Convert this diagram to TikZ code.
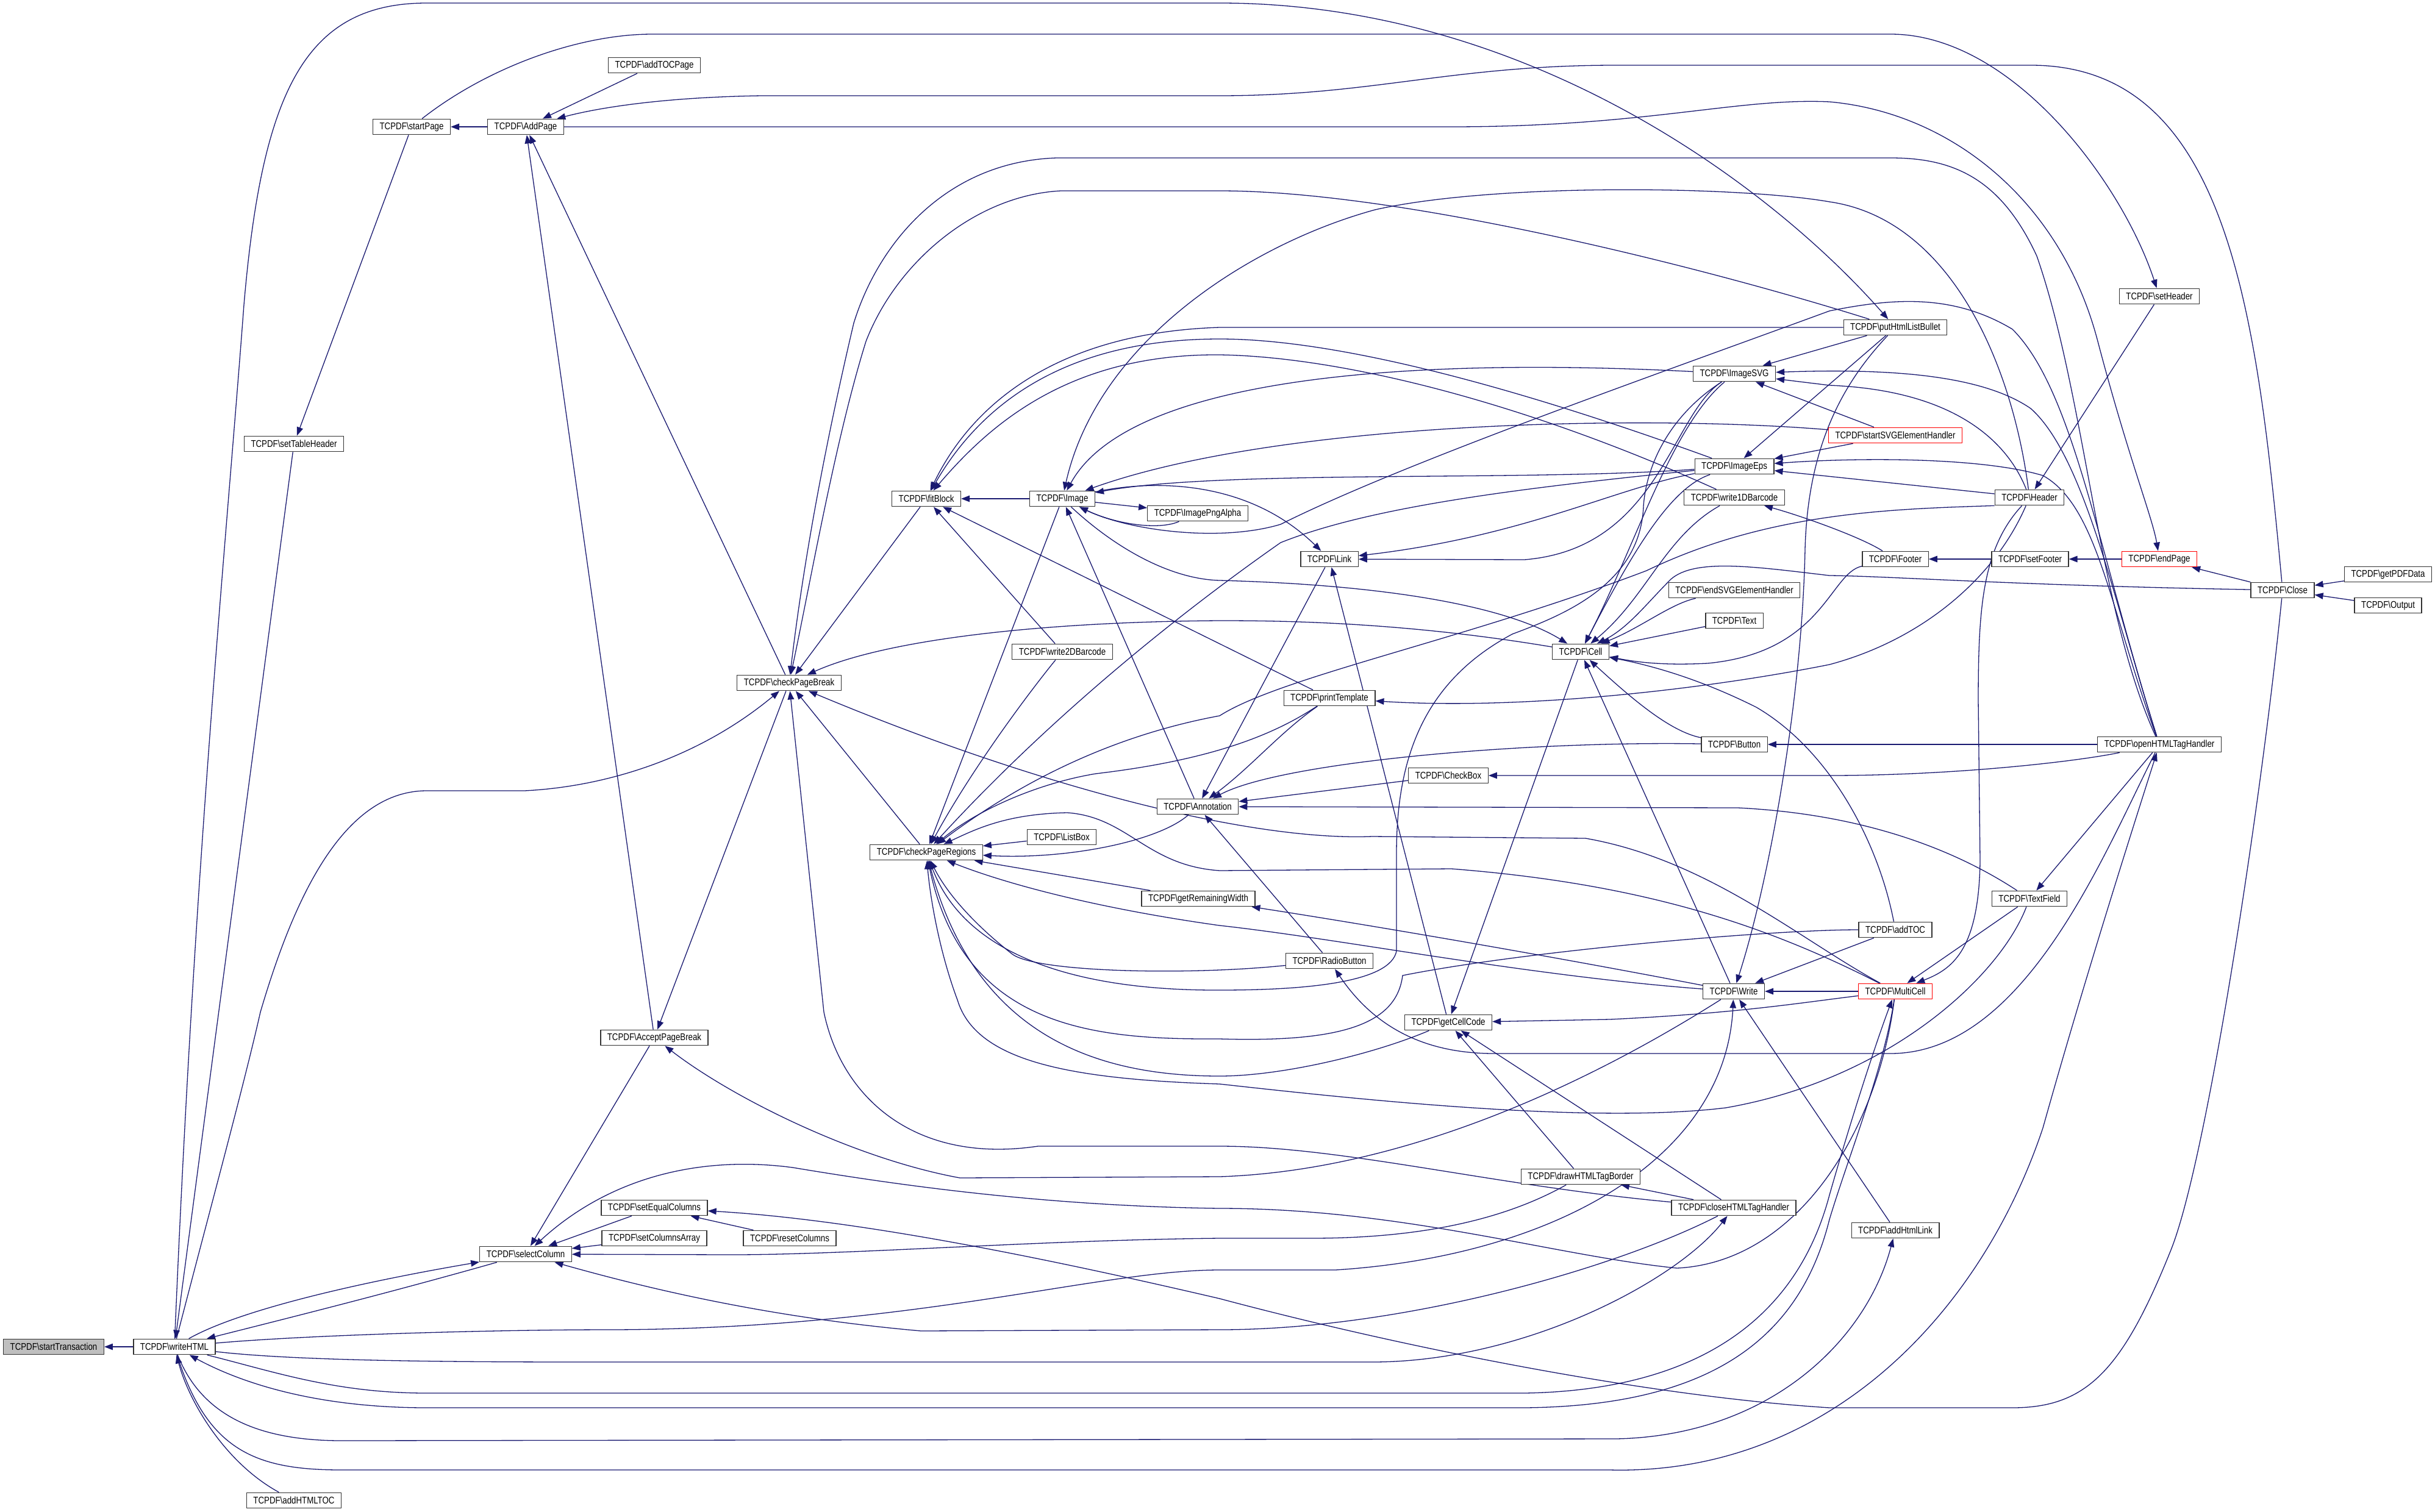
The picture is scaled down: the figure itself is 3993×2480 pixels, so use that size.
\documentclass[tikz,border=0pt]{standalone}
\usepackage{fontspec}
\newfontfamily\tcfont[FakeStretch=0.83]{Liberation Sans}
\usepackage{tikz}
\usetikzlibrary{arrows.meta,backgrounds}
\definecolor{edgeblue}{HTML}{191970}
\newcommand{\fnname}[1]{TCPDF\textbackslash #1}
\tikzset{
  fn/.style={ draw=black!80, fill=white, line width=1.3pt, minimum height=25.5pt, inner xsep=11pt, inner ysep=0pt, font=\tcfont\fontsize{16}{18}\selectfont }
}
\tikzset{
  fnroot/.style={ fn, fill=black!25 }
}
\tikzset{
  fnred/.style={ fn, draw=red }
}
\tikzset{
  call/.style={ draw=edgeblue, line width=1.3pt, -{Triangle[length=14pt,width=10.5pt]} }
}

\begin{document}
\begin{tikzpicture}[x=1pt,y=-1pt]
  \useasboundingbox (0,0) rectangle (3993,2480);

  \node[fnroot] (sT) at (88,2209) {\fnname{startTransaction}};
  \node[fn] (wH) at (286,2209) {\fnname{writeHTML}};
  \node[fn] (sTH) at (482,728) {\fnname{setTableHeader}};
  \node[fn] (aHT) at (482,2461) {\fnname{addHTMLTOC}};
  \node[fn] (sP) at (675,208) {\fnname{startPage}};
  \node[fn] (AP) at (862,208) {\fnname{AddPage}};
  \node[fn] (sC) at (862,2057) {\fnname{selectColumn}};
  \node[fn] (aTP) at (1073,107) {\fnname{addTOCPage}};
  \node[fn] (APB) at (1073,1702) {\fnname{AcceptPageBreak}};
  \node[fn] (sEC) at (1073,1981) {\fnname{setEqualColumns}};
  \node[fn] (sCA) at (1073,2031) {\fnname{setColumnsArray}};
  \node[fn] (cPB) at (1294,1120) {\fnname{checkPageBreak}};
  \node[fn] (rC) at (1295,2031) {\fnname{resetColumns}};
  \node[fn] (fB) at (1519,818) {\fnname{fitBlock}};
  \node[fn] (cPR) at (1519,1398) {\fnname{checkPageRegions}};
  \node[fn] (Im) at (1742,818) {\fnname{Image}};
  \node[fn] (w2D) at (1742,1069) {\fnname{write2DBarcode}};
  \node[fn] (LB) at (1741,1373) {\fnname{ListBox}};
  \node[fn] (IPA) at (1964,842) {\fnname{ImagePngAlpha}};
  \node[fn] (An) at (1964,1323) {\fnname{Annotation}};
  \node[fn] (gRW) at (1965,1474) {\fnname{getRemainingWidth}};
  \node[fn] (Li) at (2180,917) {\fnname{Link}};
  \node[fn] (pT) at (2180,1145) {\fnname{printTemplate}};
  \node[fn] (RB) at (2180,1576) {\fnname{RadioButton}};
  \node[fn] (CB) at (2375,1272) {\fnname{CheckBox}};
  \node[fn] (gCC) at (2375,1677) {\fnname{getCellCode}};
  \node[fn] (Ce) at (2592,1069) {\fnname{Cell}};
  \node[fn] (dHB) at (2592,1930) {\fnname{drawHTMLTagBorder}};
  \node[fn] (ISVG) at (2844,613) {\fnname{ImageSVG}};
  \node[fn] (IE) at (2844,765) {\fnname{ImageEps}};
  \node[fn] (w1D) at (2844,816) {\fnname{write1DBarcode}};
  \node[fn] (eSVG) at (2844,968) {\fnname{endSVGElementHandler}};
  \node[fn] (Tx) at (2844,1018) {\fnname{Text}};
  \node[fn] (Bu) at (2844,1221) {\fnname{Button}};
  \node[fn] (Wr) at (2843,1626) {\fnname{Write}};
  \node[fn] (cHT) at (2843,1981) {\fnname{closeHTMLTagHandler}};
  \node[fn] (pHL) at (3108,537) {\fnname{putHtmlListBullet}};
  \node[fnred] (sSVG) at (3108,714) {\fnname{startSVGElementHandler}};
  \node[fn] (Fo) at (3108,917) {\fnname{Footer}};
  \node[fn] (aT) at (3108,1525) {\fnname{addTOC}};
  \node[fnred] (MC) at (3108,1626) {\fnname{MultiCell}};
  \node[fn] (aHL) at (3108,2018) {\fnname{addHtmlLink}};
  \node[fn] (He) at (3328,816) {\fnname{Header}};
  \node[fn] (sF) at (3329,917) {\fnname{setFooter}};
  \node[fn] (TF) at (3328,1474) {\fnname{TextField}};
  \node[fn] (sH) at (3541,486) {\fnname{setHeader}};
  \node[fnred] (eP) at (3541,917) {\fnname{endPage}};
  \node[fn] (oHT) at (3541,1221) {\fnname{openHTMLTagHandler}};
  \node[fn] (Cl) at (3743,968) {\fnname{Close}};
  \node[fn] (gPD) at (3916,942) {\fnname{getPDFData}};
  \node[fn] (Out) at (3916,993) {\fnname{Output}};

  \begin{scope}[on background layer]
  % writeHTML and its neighbours
  \draw[call] (wH) -- (sT);
  \draw[call] (sC) .. controls (640,2120) and (480,2160) .. (wH);
  \draw[call] (wH) .. controls (390,2150) and (580,2105) .. (sC);
  \draw[call] (sTH) -- (wH);
  \draw[call] (aHT) .. controls (370,2400) and (310,2300) .. (wH);
  \draw[call] (sP) -- (sTH);
  \draw[call] (AP) -- (sP);
  \draw[call] (aTP) -- (AP);
  \draw[call] (cPB) -- (AP);
  \draw[call] (APB) -- (AP);
  \draw[call] (Cl) .. controls (3700,500) and (3650,107) .. (3330,107) -- (2650,107) .. controls (2380,107) and (2250,157) .. (2000,157) -- (1250,157) .. controls (1050,160) and (950,185) .. (AP);
  \draw[call] (wH) .. controls (340,2000) and (400,1780) .. (427,1660) .. controls (480,1480) and (560,1297) .. (700,1297) -- (860,1297) .. controls (1000,1290) and (1150,1240) .. (cPB);
  \draw[call] (wH) .. controls (320,1400) and (370,900) .. (400,500) .. controls (430,150) and (500,5) .. (700,5) -- (2000,5) .. controls (2500,5) and (2900,300) .. (pHL);
  \draw[call] (sP) .. controls (800,110) and (950,56) .. (1070,56) -- (3100,56) .. controls (3300,56) and (3480,300) .. (sH);
  \draw[call] (AP) -- (2380,208) .. controls (2700,208) and (2850,160) .. (3000,167) .. controls (3200,185) and (3380,330) .. (3440,560) .. controls (3490,750) and (3530,850) .. (eP);

  % checkPageBreak
  \draw[call] (oHT) .. controls (3440,1000) and (3420,650) .. (3340,420) .. controls (3280,290) and (3200,259) .. (3100,259) -- (1733,259) .. controls (1550,265) and (1440,400) .. (1400,530) .. controls (1360,700) and (1320,900) .. (cPB);
  \draw[call] (pHL) .. controls (2800,440) and (2300,313) .. (2000,313) -- (1740,313) .. controls (1600,320) and (1470,430) .. (1420,560) .. controls (1370,720) and (1330,950) .. (cPB);
  \draw[call] (fB) -- (cPB);
  \draw[call] (Ce) .. controls (2300,1020) and (2100,1018) .. (2000,1018) .. controls (1700,1020) and (1450,1050) .. (cPB);
  \draw[call] (cPR) -- (cPB);
  \draw[call] (MC) .. controls (2950,1540) and (2800,1410) .. (2600,1375) -- (2250,1372) .. controls (2050,1380) and (1700,1290) .. (cPB);
  \draw[call] (cHT) .. controls (2450,1945) and (2200,1880) .. (2000,1880) -- (1702,1880) .. controls (1500,1910) and (1380,1800) .. (1351,1660) -- (cPB);
  \draw[call] (cPB) -- (APB);
  \draw[call] (Wr) .. controls (2600,1780) and (2300,1920) .. (2000,1930) -- (1574,1932) .. controls (1400,1900) and (1200,1800) .. (APB);

  % selectColumn
  \draw[call] (APB) -- (sC);
  \draw[call] (MC) .. controls (3080,1850) and (2950,2070) .. (2750,2080) .. controls (2550,2060) and (2300,1982) .. (2000,1982) .. controls (1700,1978) and (1450,1940) .. (1300,1915) .. controls (1150,1895) and (1000,1930) .. (sC);
  \draw[call] (sEC) -- (sC);
  \draw[call] (sCA) -- (sC);
  \draw[call] (dHB) .. controls (2450,2010) and (2300,2031) .. (2150,2031) -- (2000,2031) .. controls (1700,2034) and (1400,2058) .. (1200,2058) -- (sC);
  \draw[call] (cHT) .. controls (2650,2080) and (2300,2181) .. (2000,2181) -- (1510,2183) .. controls (1250,2160) and (1050,2110) .. (sC);
  \draw[call] (rC) -- (sEC);
  \draw[call] (Cl) .. controls (3710,1300) and (3620,1900) .. (3560,2050) .. controls (3480,2250) and (3420,2309) .. (3300,2309) -- (3000,2309) .. controls (2700,2290) and (2300,2210) .. (2000,2130) .. controls (1700,2060) and (1400,2000) .. (sEC);

  % long lines out of writeHTML
  \draw[call] (wH) .. controls (500,2190) and (800,2181) .. (1000,2181) .. controls (1500,2180) and (1800,2083) .. (2000,2083) -- (2190,2083) .. controls (2550,2060) and (2830,1900) .. (Wr);
  \draw[call] (wH) .. controls (500,2234) and (800,2234) .. (1000,2234) -- (2250,2234) .. controls (2500,2234) and (2750,2100) .. (cHT);
  \draw[call] (wH) .. controls (450,2250) and (550,2285) .. (700,2285) -- (2500,2285) .. controls (2800,2280) and (2950,2150) .. (3000,1960) .. controls (3040,1820) and (3080,1700) .. (MC);
  \draw[call] (MC) .. controls (3090,1750) and (3030,1900) .. (3000,2000) .. controls (2950,2200) and (2800,2306) .. (2500,2309) -- (700,2309) .. controls (500,2309) and (380,2260) .. (wH);
  \draw[call] (wH) .. controls (330,2320) and (420,2363) .. (560,2363) -- (2650,2360) .. controls (2900,2355) and (3060,2200) .. (aHL);
  \draw[call] (wH) .. controls (340,2380) and (420,2411) .. (560,2411) -- (2640,2411) .. controls (3000,2420) and (3250,2150) .. (3350,1850) .. controls (3420,1600) and (3500,1350) .. (oHT);
  \draw[call] (oHT) .. controls (3450,1400) and (3320,1728) .. (3100,1728) -- (2450,1728) .. controls (2330,1728) and (2250,1680) .. (RB);

  % fitBlock and Image
  \draw[call] (Im) -- (fB);
  \draw[call] (pHL.west) -- (2000,537) .. controls (1750,545) and (1600,650) .. (fB);
  \draw[call] (IE) .. controls (2500,640) and (2200,556) .. (2000,556) .. controls (1750,556) and (1610,660) .. (fB);
  \draw[call] (w1D) .. controls (2500,660) and (2200,585) .. (2000,582) .. controls (1750,580) and (1620,700) .. (fB);
  \draw[call] (w2D) -- (fB);
  \draw[call] (pT) -- (fB);
  \draw[call] (Im) -- (IPA);
  \draw[call] (IPA) .. controls (1900,870) and (1830,860) .. (Im);
  \draw[call] (He) .. controls (3300,600) and (3200,360) .. (3000,331) .. controls (2850,305) and (2450,300) .. (2255,344) .. controls (2050,400) and (1800,560) .. (Im);
  \draw[call] (ISVG) .. controls (2300,585) and (1850,620) .. (Im);
  \draw[call] (sSVG) .. controls (2700,680) and (2100,690) .. (Im);
  \draw[call] (IE) .. controls (2500,790) and (2000,770) .. (Im);
  \draw[call] (Im) .. controls (1900,785) and (2050,790) .. (Li);
  \draw[call] (Im) .. controls (1830,900) and (1920,950) .. (2000,952) .. controls (2300,960) and (2480,1000) .. (Ce);
  \draw[call] (An) -- (Im);
  \draw[call] (oHT) .. controls (3440,900) and (3400,640) .. (3300,540) .. controls (3200,480) and (3100,490) .. (3000,510) .. controls (2700,620) and (2300,760) .. (2100,860) .. controls (2000,890) and (1850,870) .. (Im);

  % checkPageRegions
  \draw[call] (Im) -- (cPR);
  \draw[call] (w2D) .. controls (1700,1120) and (1600,1250) .. (cPR);
  \draw[call] (IE) .. controls (2500,800) and (2250,830) .. (2100,890) .. controls (1900,1030) and (1700,1200) .. (cPR);
  \draw[call] (He.south west) .. controls (3100,835) and (2900,840) .. (2700,936) .. controls (2400,1050) and (2100,1110) .. (2000,1174) .. controls (1800,1211) and (1650,1300) .. (cPR);
  \draw[call] (pT) .. controls (2096,1200) and (2000,1245) .. (1797,1269) .. controls (1700,1285) and (1600,1330) .. (cPR);
  \draw[call] (MC) .. controls (2900,1520) and (2700,1450) .. (2380,1425) -- (2000,1428) .. controls (1880,1420) and (1850,1340) .. (1750,1333) .. controls (1650,1335) and (1600,1360) .. (cPR);
  \draw[call] (LB) -- (cPR);
  \draw[call] (An) .. controls (1900,1380) and (1750,1410) .. (cPR);
  \draw[call] (gRW) -- (cPR);
  \draw[call] (Wr) .. controls (2500,1600) and (2200,1540) .. (2000,1518) .. controls (1800,1490) and (1650,1450) .. (cPR);
  \draw[call] (RB) .. controls (1950,1600) and (1700,1595) .. (1660,1565) .. controls (1590,1510) and (1550,1460) .. (cPR);
  \draw[call] (ISVG) .. controls (2740,680) and (2700,760) .. (2695,830) .. controls (2690,960) and (2560,1010) .. (2480,1040) .. controls (2330,1120) and (2290,1250) .. (2290,1400) -- (2290,1560) .. controls (2280,1610) and (2150,1624) .. (2000,1624) .. controls (1750,1625) and (1580,1560) .. (cPR);
  \draw[call] (TF) .. controls (3280,1600) and (3100,1770) .. (2830,1817) .. controls (2600,1845) and (2200,1800) .. (2000,1778) .. controls (1750,1770) and (1600,1740) .. (1570,1640) .. controls (1540,1560) and (1525,1470) .. (cPR);
  \draw[call] (gCC) .. controls (2250,1730) and (2100,1765) .. (2000,1765) .. controls (1800,1765) and (1600,1700) .. (cPR);
  \draw[call] (aT) .. controls (2900,1525) and (2500,1560) .. (2300,1600) .. controls (2290,1680) and (2200,1710) .. (2000,1704) .. controls (1800,1705) and (1580,1690) .. (cPR);
  \draw[call] (Wr) .. controls (2500,1560) and (2200,1510) .. (gRW);

  % Cell, getCellCode, Link, Annotation
  \draw[call] (Ce) -- (gCC);
  \draw[call] (MC) .. controls (2950,1645) and (2850,1662) .. (2640,1672) -- (gCC);
  \draw[call] (dHB) -- (gCC);
  \draw[call] (cHT) -- (gCC);
  \draw[call] (cHT) -- (dHB);
  \draw[call] (gCC) -- (Li);
  \draw[call] (Li) -- (An);
  \draw[call] (IE) .. controls (2650,800) and (2500,880) .. (Li);
  \draw[call] (ISVG) .. controls (2740,680) and (2720,900) .. (2500,918) -- (Li);
  \draw[call] (ISVG) .. controls (2740,700) and (2680,900) .. (Ce);
  \draw[call] (IE) .. controls (2740,800) and (2680,900) .. (Ce);
  \draw[call] (w1D) .. controls (2730,880) and (2700,980) .. (Ce);
  \draw[call] (eSVG) .. controls (2740,990) and (2690,1030) .. (Ce);
  \draw[call] (Tx) -- (Ce);
  \draw[call] (Bu) .. controls (2740,1200) and (2680,1150) .. (Ce);
  \draw[call] (Wr) -- (Ce);
  \draw[call] (aT) .. controls (3080,1380) and (3000,1230) .. (2880,1160) .. controls (2780,1110) and (2700,1090) .. (Ce);
  \draw[call] (Fo) .. controls (3000,940) and (2990,1070) .. (2800,1088) .. controls (2720,1092) and (2680,1085) .. (Ce);
  \draw[call] (Cl) .. controls (3300,960) and (3100,945) .. (3000,944) .. controls (2880,930) and (2780,915) .. (2740,950) .. controls (2700,990) and (2670,1030) .. (Ce);

  % right part
  \draw[call] (pHL) -- (ISVG);
  \draw[call] (pHL) -- (IE);
  \draw[call] (pHL) .. controls (3030,620) and (2965,720) .. (2960,900) .. controls (2955,1150) and (2900,1450) .. (Wr);
  \draw[call] (oHT) .. controls (3470,1000) and (3420,750) .. (3330,670) .. controls (3250,615) and (3100,604) .. (ISVG);
  \draw[call] (oHT) .. controls (3460,1000) and (3440,830) .. (3350,780) .. controls (3250,750) and (3050,750) .. (IE);
  \draw[call] (He) .. controls (3290,720) and (3200,640) .. (3000,632) -- (ISVG);
  \draw[call] (He) -- (IE);
  \draw[call] (He) .. controls (3250,900) and (3244,1000) .. (3244,1150) -- (3247,1412) .. controls (3245,1560) and (3200,1590) .. (MC);
  \draw[call] (He) .. controls (3270,950) and (3150,1050) .. (3000,1090) .. controls (2800,1130) and (2500,1165) .. (pT);
  \draw[call] (sH) -- (He);
  \draw[call] (eP) -- (sF);
  \draw[call] (sF) -- (Fo);
  \draw[call] (Fo) .. controls (3050,880) and (2950,845) .. (w1D);
  \draw[call] (Cl) -- (eP);
  \draw[call] (gPD) -- (Cl);
  \draw[call] (Out) -- (Cl);
  \draw[call] (oHT) -- (Bu);
  \draw[call] (oHT) .. controls (3400,1250) and (3200,1272) .. (3000,1272) -- (CB);
  \draw[call] (oHT) -- (TF);
  \draw[call] (TF) -- (MC);
  \draw[call] (TF) .. controls (3200,1390) and (3050,1335) .. (2850,1325) -- (An);
  \draw[call] (Bu) .. controls (2500,1215) and (2100,1250) .. (An);
  \draw[call] (CB) -- (An);
  \draw[call] (pT) .. controls (2100,1200) and (2050,1260) .. (An);
  \draw[call] (RB) -- (An);
  \draw[call] (sSVG) -- (ISVG);
  \draw[call] (sSVG) -- (IE);
  \draw[call] (aT) -- (Wr);
  \draw[call] (MC) -- (Wr);
  \draw[call] (aHL) -- (Wr);
  \end{scope}
\end{tikzpicture}
\end{document}
